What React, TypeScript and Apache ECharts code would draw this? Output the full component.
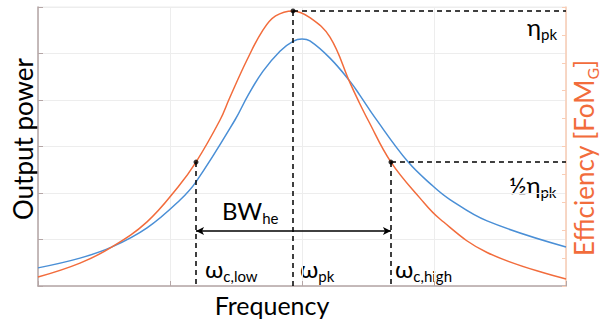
import React, { useEffect, useRef } from "react";
import * as echarts from "echarts";

// Output power (left axis, 0..6) vs normalised frequency (0..4)
const powerPoints: [number, number][] = [
  [0, 0.39], [0.318, 0.6], [0.561, 0.84], [0.826, 1.25], [1.076, 1.85],
  [1.197, 2.24], [1.492, 3.57], [1.591, 4.1], [1.705, 4.62], [1.833, 5.05],
  [1.932, 5.26], [2.0, 5.31], [2.06, 5.27], [2.212, 4.9], [2.364, 4.4],
  [2.439, 4.1], [2.553, 3.62], [2.803, 2.67], [2.992, 2.15], [3.121, 1.86],
  [3.402, 1.4], [4.0, 0.84],
];
// Efficiency (right axis, 0..10)
const efficiencyPoints: [number, number][] = [
  [0, 0.32], [0.318, 0.82], [0.561, 1.4], [0.826, 2.3], [1.061, 3.55],
  [1.197, 4.44], [1.379, 5.95], [1.45, 6.72], [1.583, 8.1], [1.705, 9.18],
  [1.8, 9.68], [1.932, 9.86], [2.06, 9.62], [2.212, 8.92], [2.364, 7.28],
  [2.424, 6.67], [2.5, 5.95], [2.674, 4.44], [2.894, 3.15], [3.045, 2.4],
  [3.402, 1.2], [4.0, 0.25],
];
const wLow = 1.197;
const wPk = 1.932;
const wHigh = 2.674;
const etaPk = 9.86;
const halfEta = 4.44;
const bwLevel = 1.97;
const keyPoints: [number, number][] = [
  [wLow, halfEta], [wPk, etaPk], [wHigh, halfEta],
];

const BLUE = "#4a8fd6";
const ORANGE = "#f26c3c";
const FONT = "Lato";

function sub(main: string, s: string, x: number, y: number, size = 24, subSize = 15) {
  return {
    type: "text",
    x, y,
    style: {
      text: `{a|${main}}{b|${s}}`,
      align: "left",
      verticalAlign: "middle",
      fill: "#000",
      fontFamily: FONT,
      rich: {
        a: { fontSize: size, fontFamily: FONT, lineHeight: 30, fill: "#000" },
        b: { fontSize: subSize, fontFamily: FONT, lineHeight: 14, verticalAlign: "bottom", fill: "#000" },
      },
    },
    silent: true,
  };
}

export default function App() {
  const ref = useRef<HTMLDivElement>(null);
  useEffect(() => {
    if (!ref.current) return;
    const chart = echarts.init(ref.current, null, { renderer: "svg" });
    const dashed = { type: [5, 4] as any, color: "#000", width: 1.5 };
    chart.setOption({
      animation: false,
      backgroundColor: "#fff",
      grid: { left: 38, right: 35, top: 7, bottom: 39, show: true, borderColor: "#ededed", borderWidth: 1 },
      xAxis: {
        type: "value", min: 0, max: 4, interval: 1,
        axisLine: { show: true, lineStyle: { color: "#b5a6a6", width: 1.5 } },
        axisTick: { show: true, inside: true, length: 5, lineStyle: { color: "#b5a6a6" } },
        axisLabel: { show: false },
        splitLine: { show: true, lineStyle: { color: "#ededed" } },
      },
      yAxis: [
        {
          type: "value", min: 0, max: 6, interval: 1,
          axisLine: { show: true, lineStyle: { color: "#b5a6a6", width: 1.5 } },
          axisTick: { show: true, inside: true, length: 5, lineStyle: { color: "#b5a6a6" } },
          axisLabel: { show: false },
          splitLine: { show: true, lineStyle: { color: "#ededed" } },
        },
        {
          type: "value", min: 0, max: 10, interval: 1, position: "right",
          axisLine: { show: true, lineStyle: { color: "#f9cdb5", width: 1.5 } },
          axisTick: { show: true, inside: true, length: 4, lineStyle: { color: "#f9cdb5" } },
          axisLabel: { show: false },
          splitLine: { show: false },
        },
      ],
      series: [
        {
          type: "line", name: "Output power", yAxisIndex: 0, data: powerPoints,
          smooth: 0.4, showSymbol: false, lineStyle: { color: BLUE, width: 1.5 }, z: 2,
        },
        {
          type: "line", name: "Efficiency", yAxisIndex: 1, data: efficiencyPoints,
          smooth: 0.4, showSymbol: false, lineStyle: { color: ORANGE, width: 1.5 }, z: 3,
          markLine: {
            silent: true, symbol: "none", label: { show: false },
            lineStyle: dashed,
            data: [
              [{ coord: [wLow, halfEta] }, { coord: [wLow, 0] }],
              [{ coord: [wPk, etaPk] }, { coord: [wPk, 0] }],
              [{ coord: [wHigh, halfEta] }, { coord: [wHigh, 0] }],
              [{ coord: [wPk, etaPk] }, { coord: [4, etaPk] }],
              [{ coord: [wHigh, halfEta] }, { coord: [4, halfEta] }],
              [
                { coord: [wLow, bwLevel], symbol: "arrow", symbolSize: [6, 8], lineStyle: { type: "solid", width: 1.5, color: "#000" } },
                { coord: [wHigh, bwLevel], symbol: "arrow", symbolSize: [6, 8] },
              ],
            ],
          },
        },
        {
          type: "scatter", yAxisIndex: 1, data: keyPoints, symbolSize: 5,
          itemStyle: { color: "#000" }, z: 5, silent: true,
        },
      ],
      graphic: [
        {
          type: "text", x: 23, y: 139, rotation: Math.PI / 2,
          style: { text: "Output power", fontSize: 26, fontFamily: FONT, fill: "#000", align: "center", verticalAlign: "middle" },
        },
        {
          type: "text", x: 584, y: 158, rotation: Math.PI / 2,
          style: {
            text: "{a|Efficiency [FoM}{b|G}{a|]}",
            align: "center", verticalAlign: "middle", fontFamily: FONT,
            rich: {
              a: { fontSize: 26, fontFamily: FONT, lineHeight: 32, fill: ORANGE },
              b: { fontSize: 16, fontFamily: FONT, lineHeight: 16, verticalAlign: "bottom", fill: ORANGE },
            },
          },
        },
        {
          type: "text", x: 272, y: 305,
          style: { text: "Frequency", fontSize: 25, fontFamily: FONT, fill: "#000", align: "center", verticalAlign: "middle" },
        },
        sub("BW", "he", 222, 210),
        sub("ω", "c,low", 205, 268),
        sub("ω", "pk", 300, 268),
        sub("ω", "c,high", 395, 268),
        sub("η", "pk", 527, 26),
        sub("½η", "pk", 509, 184),
      ],
    });
    return () => chart.dispose();
  }, []);
  return <div ref={ref} style={{ width: 601, height: 325, position: "fixed", left: 0, top: 0 }} />;
}
